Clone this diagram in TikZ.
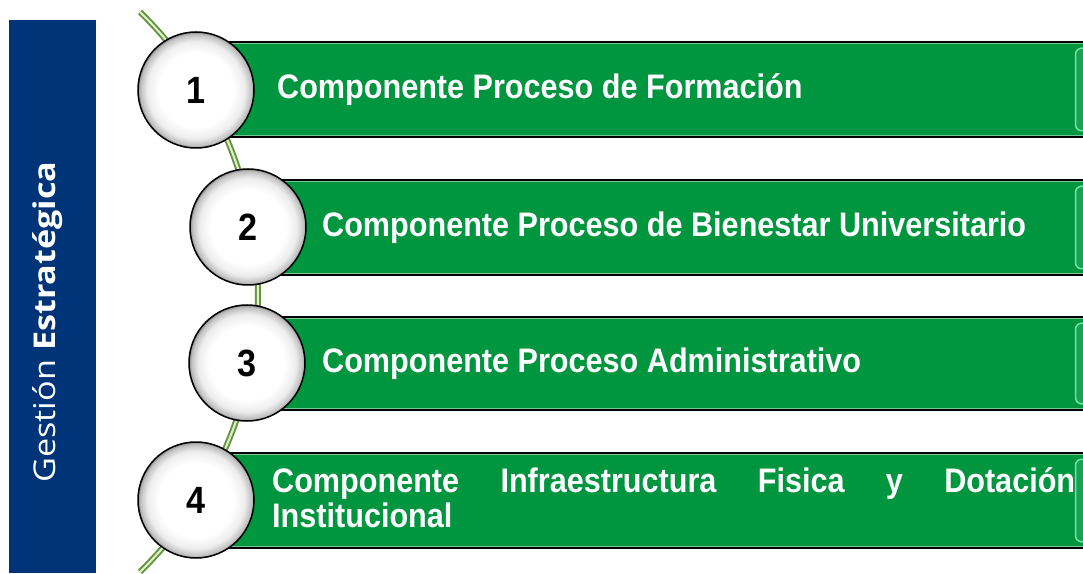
\documentclass[tikz,border=0pt]{standalone}
\usepackage{fontspec}
\setmainfont{Liberation Sans}
\newfontfamily\barfont[FakeStretch=0.9]{Liberation Sans}
\newfontfamily\sidefont[FakeStretch=1.14]{Open Sans}
\usepackage{tikz}
\usetikzlibrary{positioning,calc}
\definecolor{barGreen}{RGB}{0,150,64}
\definecolor{barLight}{RGB}{120,225,160}
\definecolor{sideBlue}{RGB}{0,52,120}
\definecolor{lineGreen}{RGB}{100,150,60}
\definecolor{lineLight}{RGB}{225,240,210}
\pgfdeclareradialshading{ballshade}{\pgfpoint{0bp}{0bp}}{color(0bp)=(white); color(16bp)=(white); color(21bp)=(black!7); color(24bp)=(black!25); color(25bp)=(black!45); color(50bp)=(black!45)}
\newcommand{\nohyph}{\hyphenpenalty 10000\exhyphenpenalty 10000\relax}

\begin{document}
\begin{tikzpicture}[
    x=1pt, y=1pt,
    sidebar/.style={rectangle, fill=sideBlue, minimum width=87pt, minimum height=553pt, inner sep=0pt},
    sidetext/.style={text=white, font=\sidefont\fontsize{30}{30}\selectfont, rotate=90, anchor=base, inner sep=0pt},
    track/.style={draw=lineGreen, double=lineLight, double distance=2pt, line width=2pt},
    bar/.style={rectangle, draw=black, line width=1.5pt, fill=barGreen, minimum height=95pt, anchor=west, inner sep=0pt},
    edgelight/.style={draw=barGreen!55!white, line width=1pt},
    capline/.style={draw=barLight, fill=barGreen!90!white, line width=1.5pt, rounded corners=6pt},
    ball/.style={circle, draw=black, line width=1.5pt, shade, shading=ballshade, minimum size=116pt, inner sep=0pt, font=\barfont\bfseries\fontsize{38}{38}\selectfont},
    bartext/.style={text=white, font=\barfont\bfseries\fontsize{34}{35}\selectfont\nohyph, anchor=base west, inner sep=0pt}
]
    \useasboundingbox (0,0) rectangle (1083,573);
    \clip (0,0) rectangle (1083,573);

    \node[sidebar] (side) at (52.5,276.5) {};
    \node[sidetext] (sidelabel) at (55,251) {Gestión \textbf{Estratégica}};

    \coordinate (trackTop) at (140,561);
    \coordinate (trackBottom) at (140,1);
    \draw[track] (trackTop) arc[start angle=45.7, end angle=-45.7, radius=391.2pt];

    \node[bar, minimum width=885pt] (bar1) at (215,483.5) {};
    \node[bar, minimum width=830pt] (bar2) at (270,345.5) {};
    \node[bar, minimum width=835pt, minimum height=93pt] (bar3) at (265,209.5) {};
    \node[bar, minimum width=885pt] (bar4) at (215,72.5) {};

    \foreach \b in {bar1,bar2,bar3,bar4} {
        \draw[edgelight] ([yshift=-2.5]\b.north west) -- ([yshift=-2.5]\b.north east);
        \draw[edgelight] ([yshift=2.5]\b.south west) -- ([yshift=2.5]\b.south east);
        \draw[capline] ([shift={(-5,-7)}]\b.north east) -- ([shift={(-26,-7)}]\b.north east)
            -- ([shift={(-26,7)}]\b.south east) -- ([shift={(-5,7)}]\b.south east);
    }

    \node[ball] (ball1) at (196,483) {1};
    \node[ball] (ball2) at (248,346) {2};
    \node[ball] (ball3) at (247,210) {3};
    \node[ball] (ball4) at (196,73) {4};

    \node[bartext] (text1) at (277,474) {Componente Proceso de Formación};
    \node[bartext] (text2) at (322,336) {Componente Proceso de Bienestar Universitario};
    \node[bartext] (text3) at (322,200) {Componente Proceso Administrativo};
    \node[bartext, text width=803pt, align=justify] (text4) at (272,81)
        {Componente Infraestructura Fisica y Dotación Institucional};
\end{tikzpicture}
\end{document}
